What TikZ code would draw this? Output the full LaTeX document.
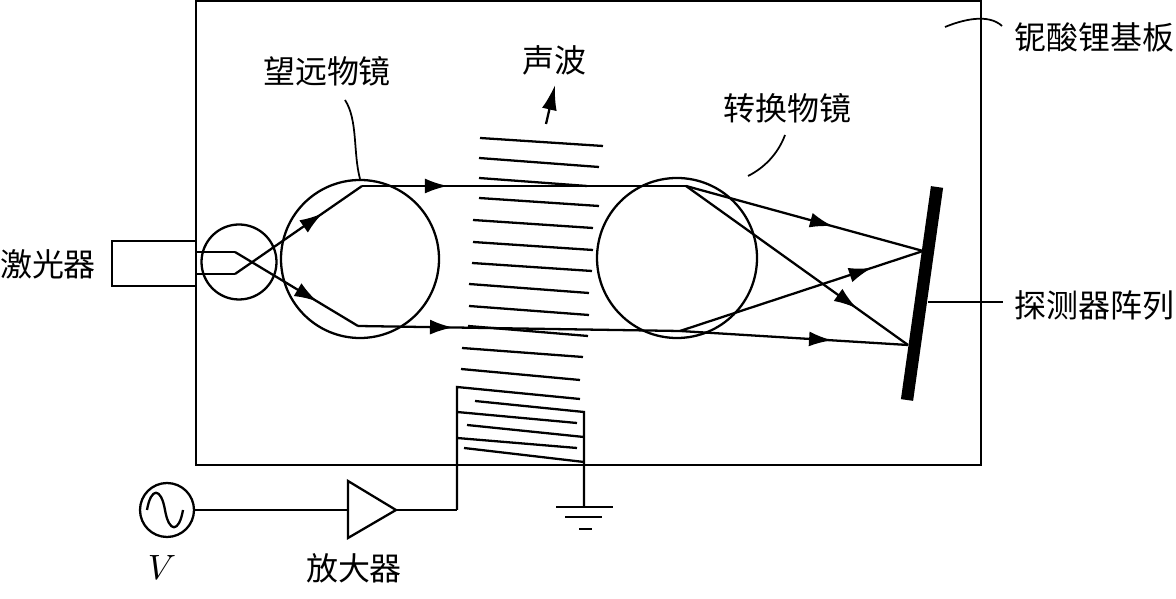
\documentclass[tikz,border=0pt]{standalone}
\usepackage{fontspec}
\newfontfamily\cjk{Noto Sans CJK SC}
\usetikzlibrary{arrows.meta,decorations.markings}
\tikzset{
    wire/.style={draw=black, line width=0.65pt},
    thinwire/.style={draw=black, line width=0.5pt},
    lens/.style={circle, draw=black, line width=0.65pt, inner sep=0pt},
    label/.style={inner sep=0pt, font=\fontsize{9.1pt}{9.1pt}\selectfont\cjk},
    ray/.style={wire, postaction={decorate},
        decoration={markings, mark=at position #1 with {\arrow{Latex[length=2.3mm,width=1.5mm]}}}},
}
\begin{document}
\begin{tikzpicture}
            \useasboundingbox (0,0) rectangle (11.76,5.98);
            % ---------- substrate ----------
            \draw[wire, line width=0.75pt] (1.96,5.97) rectangle (9.81,1.33);
            \node[label] (substratelabel) at (10.94,5.61) {铌酸锂基板};
            \coordinate (substratestart) at (9.45,5.71);
            \coordinate (substrateend) at (10.02,5.72);
            \draw[thinwire] (substratestart) .. controls (9.62,5.78) and (9.88,5.85) .. (substrateend);
            % ---------- laser ----------
            \coordinate (laserne) at (1.96,3.57);
            \coordinate (lasernw) at (1.12,3.57);
            \coordinate (lasersw) at (1.12,3.12);
            \coordinate (laserse) at (1.96,3.12);
            \draw[wire] (laserne) -- (lasernw) -- (lasersw) -- (laserse);
            \node[label] (laserlabel) at (0.48,3.34) {激光器};
            % ---------- lenses ----------
            \node[lens, minimum size=0.75cm] (smalllens) at (2.39,3.36) {};
            \node[lens, minimum size=1.58cm] (telelens) at (3.60,3.39) {};
            \node[lens, minimum size=1.60cm] (convlens) at (6.77,3.40) {};
            \node[label] (telelabel) at (3.27,5.27) {望远物镜};
            \coordinate (teleend) at (3.45,4.98);
            \draw[thinwire] (teleend) .. controls (3.58,4.78) and (3.53,4.45) .. (telelens.north);
            \node[label] (convlabel) at (7.87,4.90) {转换物镜};
            \coordinate (convstart) at (7.85,4.63);
            \coordinate (convend) at (7.48,4.22);
            \draw[thinwire] (convstart) .. controls (7.78,4.44) and (7.64,4.30) .. (convend);
            % ---------- beams ----------
            \coordinate (upperin) at (1.97,3.46);
            \coordinate (upperbend) at (2.35,3.46);
            \coordinate (lowerleft) at (3.58,2.72);
            \coordinate (lowerright) at (6.80,2.67);
            \coordinate (lowerin) at (1.97,3.24);
            \coordinate (lowerbend) at (2.35,3.24);
            \coordinate (upperleft) at (3.62,4.12);
            \coordinate (upperright) at (6.86,4.12);
            \coordinate (hitupper) at (9.23,3.47);
            \coordinate (hitlower) at (9.08,2.53);
            \draw[wire] (upperin) -- (upperbend);
            \draw[wire] (lowerin) -- (lowerbend);
            \draw[ray=0.67] (upperbend) -- (lowerleft);
            \draw[ray=0.69] (lowerbend) -- (upperleft);
            \draw[ray=0.265] (upperleft) -- (upperright);
            \draw[ray=0.295] (lowerleft) -- (lowerright);
            \draw[ray=0.62] (upperright) -- (hitupper);
            \draw[ray=0.77] (upperright) -- (hitlower);
            \draw[ray=0.79] (lowerright) -- (hitupper);
            \draw[ray=0.667] (lowerright) -- (hitlower);
            % ---------- detector ----------
            \coordinate (detectortop) at (9.37,4.11);
            \coordinate (detectorbottom) at (9.07,1.98);
            \draw[line width=3.5pt] (detectortop) -- (detectorbottom);
            \node[label] (detectorlabel) at (10.94,2.93) {探测器阵列};
            \coordinate (detectorstart) at (9.28,2.96);
            \coordinate (detectorend) at (10.03,2.96);
            \draw[thinwire] (detectorstart) -- (detectorend);
            % ---------- sound wave ----------
            \draw[wire]
                (4.80,4.60) -- (6.03,4.52)
                (4.79,4.40) -- (5.99,4.31)
                (4.79,4.20) -- (5.87,4.12)
                (4.79,4.00) -- (5.99,3.92)
                (4.73,3.78) -- (5.93,3.70)
                (4.73,3.56) -- (5.93,3.48)
                (4.72,3.35) -- (5.92,3.27)
                (4.69,3.14) -- (5.89,3.05)
                (4.69,2.92) -- (5.89,2.83)
                (4.68,2.72) -- (5.88,2.62)
                (4.62,2.50) -- (5.83,2.41)
                (4.61,2.29) -- (5.80,2.18);
            \node[label] (wavelabel) at (5.54,5.38) {声波};
            \coordinate (wavestart) at (5.46,4.74);
            \coordinate (waveend) at (5.55,5.13);
            \draw[wire, -{Latex[length=2.5mm,width=1.5mm]}] (wavestart) -- (waveend);
            % ---------- transducer ----------
            \coordinate (combleft) at (4.57,2.11);
            \coordinate (combright) at (5.84,1.86);
            \coordinate (combcorner) at (4.57,0.88);
            \coordinate (groundtop) at (5.84,0.91);
            \draw[wire] (combcorner) -- (combleft) -- (5.80,1.99);
            \draw[wire] (4.75,1.97) -- (combright) -- (groundtop);
            \draw[wire]
                (4.57,1.86) -- (5.77,1.75)
                (4.67,1.73) -- (5.84,1.61)
                (4.57,1.60) -- (5.77,1.50)
                (4.64,1.50) -- (5.84,1.36);
            % ---------- ground ----------
            \draw[wire]
                (5.56,0.91) -- (6.13,0.91)
                (5.65,0.81) -- (6.02,0.81)
                (5.79,0.69) -- (5.92,0.69);
            % ---------- source ----------
            \node[lens, minimum size=0.54cm] (source) at (1.67,0.88) {};
            \draw[wire] (1.47,0.88) .. controls (1.51,1.11) and (1.61,1.11) .. (1.65,0.88)
                .. controls (1.69,0.65) and (1.79,0.65) .. (1.83,0.88);
            \node[inner sep=0pt] (sourcelabel) at (1.62,0.31) {\(V\)};
            % ---------- amplifier ----------
            \coordinate (ampin) at (3.48,0.88);
            \coordinate (amptop) at (3.48,1.17);
            \coordinate (ampbottom) at (3.48,0.60);
            \coordinate (ampout) at (3.96,0.88);
            \draw[wire] (amptop) -- (ampout) -- (ampbottom) -- cycle;
            \draw[wire] (source) -- (ampin);
            \draw[wire] (ampout) -- (combcorner);
            \node[label] (amplabel) at (3.54,0.30) {放大器};
\end{tikzpicture}
\end{document}
